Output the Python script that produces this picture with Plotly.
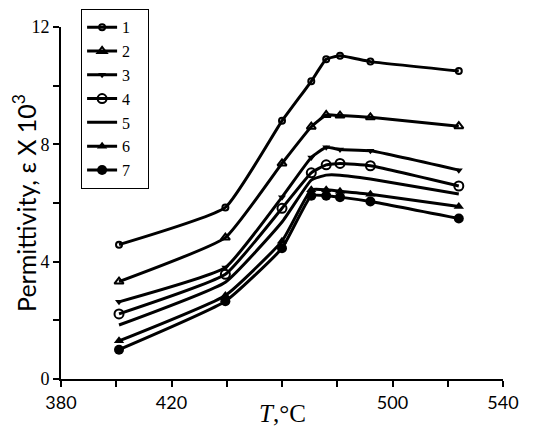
import plotly.graph_objects as go

# temperature points (deg C) shared by all curves
temp = [401, 439.5, 460, 470.6, 476, 481, 492, 524]

# permittivity x 10^3 for each curve
eps_1 = [4.58, 5.85, 8.8, 10.15, 10.9, 11.02, 10.82, 10.5]
eps_2 = [3.32, 4.82, 7.35, 8.6, 9.0, 8.98, 8.92, 8.62]
eps_3 = [2.63, 3.8, 6.2, 7.55, 7.9, 7.82, 7.78, 7.12]
eps_4 = [2.22, 3.57, 5.82, 7.03, 7.3, 7.35, 7.27, 6.58]
eps_5 = [1.84, 3.3, 5.35, 6.78, 6.95, 6.95, 6.82, 6.31]
eps_6 = [1.3, 2.85, 4.7, 6.45, 6.45, 6.4, 6.3, 5.88]
eps_7 = [1.0, 2.65, 4.46, 6.25, 6.25, 6.2, 6.05, 5.47]

labels = ["1", "2", "3", "4", "5", "6", "7"]
series = [eps_1, eps_2, eps_3, eps_4, eps_5, eps_6, eps_7]

x_ticks = [380, 400, 420, 440, 460, 480, 500, 520, 540]
x_ticktext = ["380", " ", "420", " ", " ", " ", "500", " ", "540"]
y_ticks = [0, 2, 4, 6, 8, 10, 12]
y_ticktext = ["0", " ", "4", " ", "8", " ", "12"]

# marker style per curve
markers = [
    dict(symbol="circle-open", size=6, line=dict(width=2)),
    dict(symbol="triangle-up-open", size=8, line=dict(width=2)),
    dict(symbol="triangle-down", size=7),
    dict(symbol="circle-open", size=9, line=dict(width=2)),
    None,
    dict(symbol="triangle-up", size=9),
    dict(symbol="circle", size=10),
]

fig = go.Figure()
for name, vals, mk in zip(labels, series, markers):
    mode = "lines" if mk is None else "lines+markers"
    trace = go.Scatter(
        x=temp, y=vals, name=name + "\u00a0\u00a0\u00a0", mode=mode,
        line=dict(color="black", width=3, shape="spline", smoothing=0.4),
    )
    if mk is not None:
        trace.marker = dict(color="black", **mk)
    fig.add_trace(trace)

# page body adds an 8px offset, so the figure is sized to fit inside the window
fig.update_layout(
    width=542, height=427,
    margin=dict(l=53, r=47, t=19, b=56, autoexpand=False),
    plot_bgcolor="white", paper_bgcolor="white",
    legend=dict(
        x=0.045, y=1.051, xanchor="left", yanchor="top",
        bordercolor="black", borderwidth=1.2, bgcolor="white",
        font=dict(family="Liberation Serif", size=16, color="black"),
        itemwidth=30, tracegroupgap=0,
    ),
)

fig.add_annotation(
    text="<i>T</i>,°C", x=460, xref="x", y=0, yref="paper",
    yanchor="top", yshift=-19, showarrow=False,
    font=dict(family="Liberation Serif", size=25, color="black"),
)

fig.update_xaxes(
    range=[380, 540], tickvals=x_ticks, ticktext=x_ticktext,
    showline=True, linecolor="black", linewidth=2,
    ticks="outside", ticklen=6, tickwidth=1.5, tickcolor="black",
    showgrid=False, zeroline=False, automargin=False,
    tickfont=dict(family="Lato", size=18, color="black"),
)
fig.update_yaxes(
    range=[0, 12], tickvals=y_ticks, ticktext=y_ticktext,
    showline=True, linecolor="black", linewidth=2,
    ticks="outside", ticklen=6, tickwidth=1.5, tickcolor="black",
    showgrid=False, zeroline=False, automargin=False,
    tickfont=dict(family="Liberation Serif", size=18, color="black"),
    title=dict(text="Permittivity, ε X 10<sup>3</sup>", standoff=0,
               font=dict(family="Lato", size=25, color="black")),
)

fig.write_html("out.html")
